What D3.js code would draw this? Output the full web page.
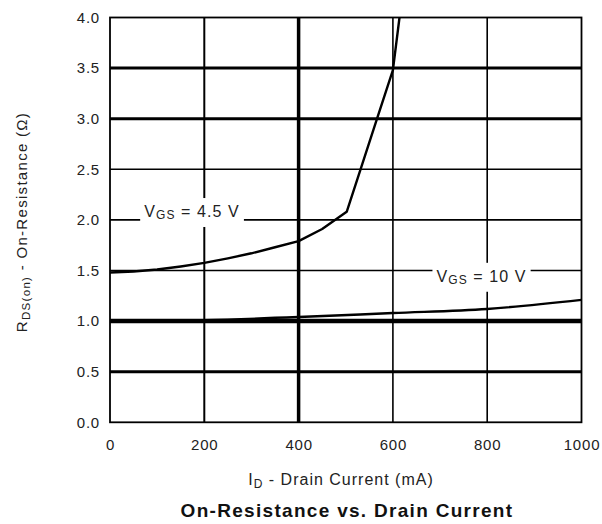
<!DOCTYPE html>
<html>
<head>
<meta charset="utf-8">
<script src="https://cdn.jsdelivr.net/npm/d3@7"></script>
<style>
  html, body { margin: 0; padding: 0; background: #fff; }
  svg { display: block; font-family: "Liberation Sans", Arial, Helvetica, sans-serif; }
  .tick text { fill: #222; }
</style>
</head>
<body>
<svg id="chart" width="602" height="524"></svg>
<script>
// Drain current (mA) and on-resistance (ohm) for each gate voltage
const currentVgs45 = [0, 50, 100, 150, 200, 250, 300, 350, 400, 450, 502, 530, 565, 600, 614];
const rdsVgs45     = [1.48, 1.49, 1.51, 1.54, 1.575, 1.62, 1.67, 1.73, 1.79, 1.91, 2.08, 2.48, 2.98, 3.48, 4.0];
const currentVgs10 = [0, 200, 400, 600, 800, 1000];
const rdsVgs10     = [1.0, 1.01, 1.04, 1.08, 1.12, 1.21];

const xTicks = [0, 200, 400, 600, 800, 1000];
const yTicks = [0.0, 0.5, 1.0, 1.5, 2.0, 2.5, 3.0, 3.5, 4.0];

const svg = d3.select("#chart");
const margin = { left: 110, right: 20.5, top: 17.5, bottom: 101.7 };
const W = 602, H = 524;

const x = d3.scaleLinear().domain([0, 1000]).range([margin.left, W - margin.right]);
const y = d3.scaleLinear().domain([0, 4]).range([H - margin.bottom, margin.top]);

// grid line weights, heavier on a few reference lines
const hWidth = v => ({ "1.0": 4.5, "0.5": 3, "3.0": 3, "3.5": 3 })[v.toFixed(1)] || 1.6;
const vWidth = v => ({ 400: 3.5, 200: 2 })[v] || 1.6;

const grid = svg.append("g");
grid.selectAll("line.h").data(yTicks.filter(v => v > 0 && v < 4)).join("line")
  .attr("class", "h")
  .attr("x1", x(0)).attr("x2", x(1000))
  .attr("y1", d => y(d)).attr("y2", d => y(d))
  .attr("stroke", "#000").attr("stroke-width", hWidth);
grid.selectAll("line.v").data(xTicks.filter(v => v > 0 && v < 1000)).join("line")
  .attr("class", "v")
  .attr("y1", y(0)).attr("y2", y(4))
  .attr("x1", d => x(d)).attr("x2", d => x(d))
  .attr("stroke", "#000").attr("stroke-width", vWidth);

// plot frame
svg.append("rect")
  .attr("x", x(0)).attr("y", y(4))
  .attr("width", x(1000) - x(0)).attr("height", y(0) - y(4))
  .attr("fill", "none").attr("stroke", "#000").attr("stroke-width", 1.8);

// axes (labels only, no tick marks)
const yAxis = d3.axisLeft(y).tickValues(yTicks).tickFormat(d3.format(".1f")).tickSize(0).tickPadding(10);
const gy = svg.append("g").attr("transform", `translate(${x(0)},0)`).call(yAxis);
gy.select(".domain").remove();
gy.selectAll("text").attr("font-size", 15).attr("letter-spacing", 0.8);

const xAxis = d3.axisBottom(x).tickValues(xTicks).tickFormat(d3.format("d")).tickSize(0).tickPadding(17);
const gx = svg.append("g").attr("transform", `translate(0,${y(0)})`).call(xAxis);
gx.select(".domain").remove();
gx.selectAll("text").attr("font-size", 15).attr("letter-spacing", 0.8);

// curves
svg.append("clipPath").attr("id", "plotClip").append("rect")
  .attr("x", x(0)).attr("y", y(4)).attr("width", x(1000) - x(0)).attr("height", y(0) - y(4));

const line45 = d3.line().x((d, i) => x(currentVgs45[i])).y(d => y(d)).curve(d3.curveLinear);
const line10 = d3.line().x((d, i) => x(currentVgs10[i])).y(d => y(d)).curve(d3.curveMonotoneX);

const curves = svg.append("g").attr("clip-path", "url(#plotClip)");
curves.append("path").attr("d", line45(rdsVgs45))
  .attr("fill", "none").attr("stroke", "#000").attr("stroke-width", 2.4)
  .attr("stroke-linejoin", "round");
curves.append("path").attr("d", line10(rdsVgs10))
  .attr("fill", "none").attr("stroke", "#000").attr("stroke-width", 2.4);

// curve labels on white boxes
function curveLabel(cx, cy, value) {
  const g = svg.append("g");
  const t = g.append("text").attr("x", cx).attr("y", cy)
    .attr("font-size", 16).attr("letter-spacing", 1.1).attr("fill", "#222")
    .attr("text-anchor", "middle").attr("dominant-baseline", "middle");
  t.append("tspan").text("V");
  t.append("tspan").attr("font-size", 12).attr("dy", 3).text("GS");
  t.append("tspan").attr("dy", -3).text(` = ${value} V`);
  const bb = t.node().getBBox();
  g.insert("rect", "text")
    .attr("x", bb.x - 4).attr("y", bb.y - 5)
    .attr("width", bb.width + 8).attr("height", bb.height + 10)
    .attr("fill", "#fff");
}
curveLabel(x(174), y(2.07), "4.5");
curveLabel(x(788), y(1.43), "10");

// axis titles
const xt = svg.append("text").attr("x", 341).attr("y", 485)
  .attr("font-size", 16).attr("letter-spacing", 1).attr("fill", "#222").attr("text-anchor", "middle");
xt.append("tspan").text("I");
xt.append("tspan").attr("font-size", 12).attr("dy", 3).text("D");
xt.append("tspan").attr("dy", -3).text(" - Drain Current (mA)");

const yt = svg.append("text").attr("transform", "translate(27,222) rotate(-90)")
  .attr("font-size", 15).attr("letter-spacing", 1.3).attr("fill", "#222").attr("text-anchor", "middle");
yt.append("tspan").text("R");
yt.append("tspan").attr("font-size", 11.5).attr("dy", 3).text("DS(on)");
yt.append("tspan").attr("dy", -3).text(" - On-Resistance (Ω)");

svg.append("text").attr("x", 347).attr("y", 517)
  .attr("font-size", 19).attr("letter-spacing", 1.3).attr("font-weight", "bold").attr("fill", "#111")
  .attr("text-anchor", "middle").text("On-Resistance vs. Drain Current");
</script>
</body>
</html>
